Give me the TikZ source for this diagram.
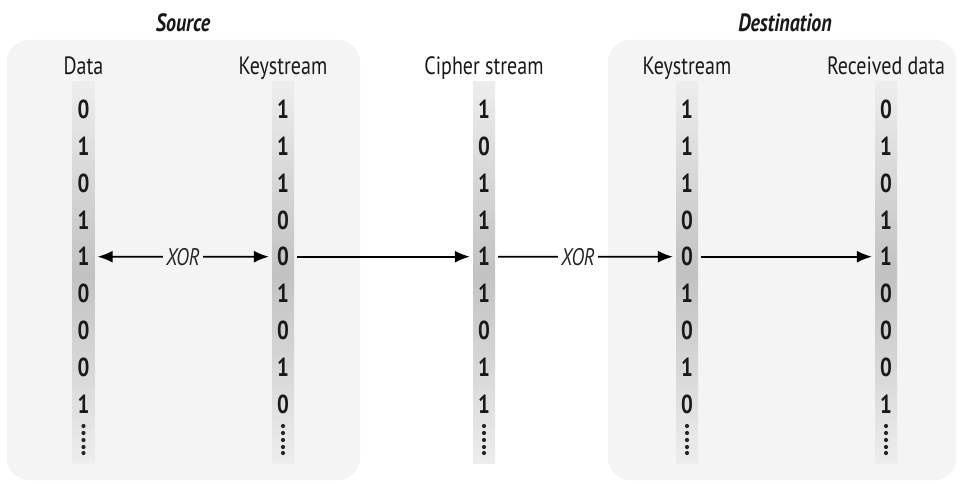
\documentclass[tikz,border=0pt]{standalone}
\usepackage{fontspec}
\setmainfont{PT Sans}[FakeStretch=0.8]
\usetikzlibrary{arrows.meta}
\definecolor{boxgray}{HTML}{F4F4F4}
\definecolor{barmid}{HTML}{C2C2C2}
\definecolor{barend}{HTML}{EDEDED}
\begin{document}
\begin{tikzpicture}[x=1pt,y=-1pt,
  panel/.style={fill=boxgray, draw=none, rounded corners=22pt},
  bit/.style={font=\fontsize{26}{26}\selectfont\bfseries, text=black!90, inner xsep=8pt, inner ysep=0pt},
  head/.style={font=\fontsize{25}{25}\selectfont, text=black!90, anchor=base},
  ptitle/.style={font=\fontsize{25}{25}\selectfont\bfseries\itshape, text=black!90, anchor=base},
  xorlab/.style={font=\fontsize{24}{24}\selectfont\itshape, text=black!85, inner xsep=3pt, inner ysep=0pt},
  arr/.style={line width=1.9pt, -{Latex[length=15pt,width=12pt]}},
  plain/.style={line width=1.9pt},
  bar/.style={top color=barend, bottom color=barend, middle color=barmid, draw=none},
]
\useasboundingbox (0,0) rectangle (960,484);
\fill[white] (0,0) rectangle (960,484);
% panels
\path[panel] (7,40) rectangle (360,480);
\path[panel] (608,40) rectangle (956,480);
\node[ptitle] (tsrc) at (183,32) {Source};
\node[ptitle] (tdst) at (785,32) {Destination};
% column bars with continuation dots
\foreach \x in {83.5,283,484,687,886}{
  \shade[bar] (\x-11,82) rectangle (\x+11,463);
  \foreach \yy in {426,433,440,447,453}{
    \fill[black!85] (\x,\yy) circle (2.1);
  }
}
% headers
\node[head] (hd) at (83.5,75) {Data};
\node[head] (hk) at (283,75) {Keystream};
\node[head] (hc) at (484,75) {Cipher stream};
\node[head] (hk2) at (687,75) {Keystream};
\node[head] (hr) at (886,75) {Received data};
% bits
\foreach \b [count=\i] in {0,1,0,1,1,0,0,0,1}{
  \node[bit] (d\i) at (83.5,{109.5+36.8*(\i-1)}) {\b};
  \node[bit] (r\i) at (886,{109.5+36.8*(\i-1)}) {\b};
}
\foreach \b [count=\i] in {1,1,1,0,0,1,0,1,0}{
  \node[bit] (k\i) at (283,{109.5+36.8*(\i-1)}) {\b};
  \node[bit] (q\i) at (687,{109.5+36.8*(\i-1)}) {\b};
}
\foreach \b [count=\i] in {1,0,1,1,1,1,0,1,1}{
  \node[bit] (c\i) at (484,{109.5+36.8*(\i-1)}) {\b};
}
% connectors
\node[xorlab, fill=boxgray] (x1) at (183,256.7) {XOR};
\draw[arr] (x1.west) -- (d5.east);
\draw[arr] (x1.east) -- (k5.west);
\draw[arr] (k5.east) -- (c5.west);
\node[xorlab] (x2) at (578,256.7) {XOR};
\draw[plain] (c5.east) -- (x2.west);
\draw[arr] (x2.east) -- (q5.west);
\draw[arr] (q5.east) -- (r5.west);
\end{tikzpicture}
\end{document}
